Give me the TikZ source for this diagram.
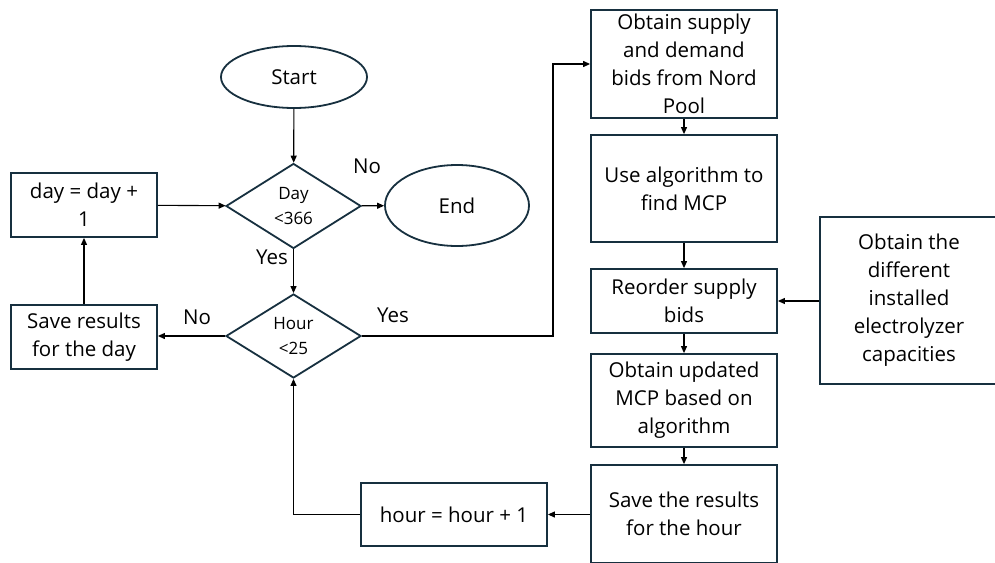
\documentclass[tikz,border=0pt]{standalone}
\usepackage{fontspec}
\setmainfont{Open Sans}
\usetikzlibrary{shapes.geometric,arrows.meta}
\definecolor{edgeblue}{HTML}{17303F}
\tikzset{
  shp/.style={draw=edgeblue, line width=1.8pt, align=center, inner sep=0pt},
  procbox/.style={shp, rectangle, minimum width=186pt},
  termin/.style={shp, ellipse, minimum width=146pt, minimum height=62pt},
  decis/.style={shp, diamond, minimum width=135pt, minimum height=85pt, aspect=1.6,
    font=\fontsize{17}{25}\selectfont},
  conn/.style={draw=black, line width=1.1pt, -{Triangle[length=7pt,width=6pt]}},
  lbl/.style={font=\fontsize{20.5}{24}\selectfont},
}
\begin{document}
\begin{tikzpicture}[x=1pt, y=-1pt, font=\fontsize{20.5}{28}\selectfont]
\useasboundingbox (0,0) rectangle (995,562);
\fill[white] (0,0) rectangle (995,562);

% left column
\node[termin] (start) at (294,77) {Start};
\node[decis] (day) at (293.5,206) {Day\\<366};
\node[termin, minimum width=144pt, minimum height=81pt] (end) at (457,205.5) {End};
\node[decis, minimum height=84pt] (hour) at (293.5,336) {Hour\\<25};
\node[procbox, minimum width=146pt, minimum height=64pt] (dayinc) at (84,205) {day = day +\\1};
\node[procbox, minimum width=146pt, minimum height=64pt] (saveday) at (84,337) {Save results\\for the day};
\node[procbox, minimum height=63pt] (hourinc) at (454,514.5) {hour = hour + 1};

% right column
\node[procbox, minimum height=108pt] (bids) at (684,64) {Obtain supply\\and demand\\bids from Nord\\Pool};
\node[procbox, minimum height=107pt] (algo) at (684,188.5) {Use algorithm to\\find MCP};
\node[procbox, minimum height=64pt] (reorder) at (684,301) {Reorder supply\\bids};
\node[procbox, minimum height=93pt] (upd) at (684,400.5) {Obtain updated\\MCP based on\\algorithm};
\node[procbox, minimum height=98pt] (savehour) at (684,514) {Save the results\\for the hour};
\node[procbox, minimum width=178pt, minimum height=167pt] (cap) at (909,300.5) {Obtain the\\different\\installed\\electrolyzer\\capacities};

% connectors
\draw[conn] (start) -- (day);
\draw[conn] (day) -- (end);
\draw[conn] (day) -- (hour);
\draw[conn] (dayinc) -- (day);
\draw[conn] (hour.west) -- (saveday.east |- hour.west);
\draw[conn] (saveday) -- (dayinc);
\coordinate (yesturn) at (553,336);
\draw[conn] (hour.east) -- (yesturn) |- (bids.west);
\draw[conn] (bids) -- (algo);
\draw[conn] (algo) -- (reorder);
\draw[conn] (reorder) -- (upd);
\draw[conn] (upd) -- (savehour);
\draw[conn] (cap.west |- reorder.east) -- (reorder.east);
\draw[conn] (savehour.west |- hourinc.east) -- (hourinc.east);
\draw[conn] (hourinc.west) -| (hour.south);

% branch labels
\node[lbl] (ldayno) at (367,166) {No};
\node[lbl] (ldayyes) at (272,257) {Yes};
\node[lbl] (lhourno) at (197,317) {No};
\node[lbl] (lhouryes) at (393,315) {Yes};
\end{tikzpicture}
\end{document}
